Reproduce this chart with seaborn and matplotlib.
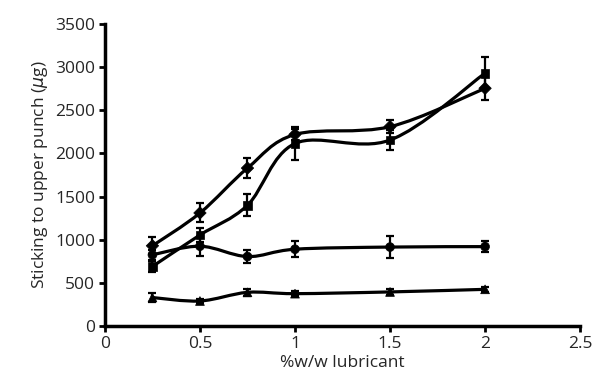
import numpy as np
import pandas as pd
import matplotlib
matplotlib.use("Agg")
import matplotlib.pyplot as plt
from matplotlib.path import Path
from matplotlib.patches import PathPatch
import seaborn as sns

x_vals = [0.25, 0.5, 0.75, 1.0, 1.5, 2.0]
series_a = [930, 1310, 1830, 2220, 2310, 2755]
err_a = [100, 110, 115, 60, 75, 130]
series_b = [690, 1055, 1400, 2115, 2155, 2930]
err_b = [60, 85, 130, 190, 120, 185]
series_c = [825, 925, 805, 890, 915, 920]
err_c = [60, 115, 75, 95, 130, 60]
series_d = [330, 290, 390, 375, 395, 425]
err_d = [50, 25, 40, 30, 30, 30]
markers = ["D", "s", "o", "^"]
names = ["A", "B", "C", "D"]

sns.set_theme(style="ticks")
plt.rcParams["font.family"] = ["Open Sans", "DejaVu Sans"]

fig = plt.figure(figsize=(6.1, 3.84), dpi=100)
ax = fig.add_axes([0.172, 0.151, 0.779, 0.7865])

rows = []
for n, ys, es in zip(names, [series_a, series_b, series_c, series_d], [err_a, err_b, err_c, err_d]):
    for xv, yv, ev in zip(x_vals, ys, es):
        rows.append({"x": xv, "y": yv, "err": ev, "series": n})
df = pd.DataFrame(rows)


def smooth_path(xs, ys, t=0.5):
    xs = np.asarray(xs, float)
    ys = np.asarray(ys, float)
    verts = [(xs[0], ys[0])]
    codes = [Path.MOVETO]
    n = len(xs)
    for i in range(n - 1):
        p0 = np.array([xs[max(i - 1, 0)], ys[max(i - 1, 0)]])
        p1 = np.array([xs[i], ys[i]])
        p2 = np.array([xs[i + 1], ys[i + 1]])
        p3 = np.array([xs[min(i + 2, n - 1)], ys[min(i + 2, n - 1)]])
        c1 = p1 + (p2 - p0) * t / 3.0
        c2 = p2 - (p3 - p1) * t / 3.0
        verts += [tuple(c1), tuple(c2), tuple(p2)]
        codes += [Path.CURVE4] * 3
    return Path(verts, codes)


for n, m in zip(names, markers):
    sub = df[df["series"] == n]
    ax.add_patch(PathPatch(smooth_path(sub["x"], sub["y"], 0.5), facecolor="none",
                           edgecolor="black", lw=2.3, zorder=2))
    ax.errorbar(sub["x"], sub["y"], yerr=sub["err"], fmt="none", ecolor="black",
                elinewidth=1.6, capsize=3, capthick=1.6, zorder=3)

sns.scatterplot(data=df, x="x", y="y", style="series", markers=dict(zip(names, markers)),
                color="black", s=40, edgecolor="black", linewidth=0.5, legend=False,
                ax=ax, zorder=4)

ax.set_xlim(0, 2.5)
ax.set_ylim(0, 3500)
ax.set_xticks([0, 0.5, 1, 1.5, 2, 2.5])
ax.set_xticklabels(["0", "0.5", "1", "1.5", "2", "2.5"])
ax.set_yticks(np.arange(0, 3501, 500))
ax.set_xlabel("%w/w lubricant", fontsize=12.5, labelpad=2)
ax.set_ylabel(r"Sticking to upper punch ($\mu$g)", fontsize=12.5, labelpad=4)
ax.tick_params(labelsize=12.5, length=4, width=2, color="black", pad=3)
for s in ["top", "right"]:
    ax.spines[s].set_visible(False)
for s in ["left", "bottom"]:
    ax.spines[s].set_linewidth(2.5)
    ax.spines[s].set_color("black")

fig.savefig("out.png", dpi=100)
